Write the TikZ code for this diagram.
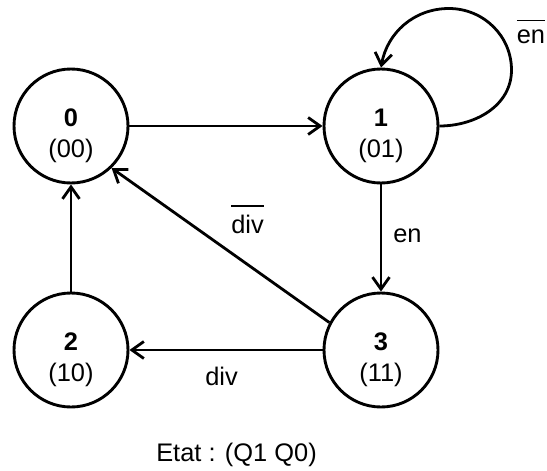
\documentclass[tikz,border=0pt]{standalone}
\usepackage{fontspec}
\setmainfont{Liberation Sans}
\usetikzlibrary{arrows.meta}
% overlined text: #1 = height of the bar above the baseline
\newcommand\ovl[2][12pt]{\setbox0\hbox{#2}\rlap{\rule[#1]{\wd0}{0.8pt}}\box0}
\begin{document}
\begin{tikzpicture}[x=0.5pt,y=-0.5pt,
  state/.style={circle,draw,line width=1.45pt,minimum size=57pt,inner sep=0pt},
  statetext/.style={align=center,inner sep=0pt,font=\fontsize{12.7}{15.5}\selectfont},
  edge/.style={draw,line width=1.4pt,-{Straight Barb[length=6pt,width=8.5pt]}},
  lbl/.style={anchor=base,inner sep=0pt,font=\fontsize{12.7}{14}\selectfont}]
\useasboundingbox (0,0) rectangle (547,471);

% states
\node[state] (s0) at (71,126) {};
\node[state] (s1) at (381,126) {};
\node[state] (s2) at (71,350) {};
\node[state] (s3) at (381,350) {};
\node[statetext] (t0) at ([yshift=-4.9pt]s0.center) {\textbf{0}\\(00)};
\node[statetext] (t1) at ([yshift=-4.9pt]s1.center) {\textbf{1}\\(01)};
\node[statetext] (t2) at ([yshift=-4.9pt]s2.center) {\textbf{2}\\(10)};
\node[statetext] (t3) at ([yshift=-4.9pt]s3.center) {\textbf{3}\\(11)};

% transitions
\draw[edge] (s0) -- (s1);
\draw[edge] (s1) -- (s3);
\draw[edge] (s2) -- (s0);
\draw[edge] (s3) -- (s2);
\draw[edge] (s3.152) -- (s0.-46);
\coordinate (lpE) at (511.5,70);
\coordinate (lpN) at (449,8.5);
\draw[edge] (s1.east) to[out=0,in=-90] (lpE) to[out=90,in=0] (lpN)
  to[out=180,in=80] (s1.north);

% transition labels
\node[lbl] (lenbar) at (531,43) {\ovl[10.8pt]{en}};
\node[lbl] (len) at (407.5,242) {en};
\node[lbl] (ldivbar) at (247.5,233) {\ovl[13pt]{div}};
\node[lbl] (ldiv) at (221.5,385) {div};
\node[lbl] (etat) at (236.5,461) {Etat : (Q1 Q0)};
\end{tikzpicture}
\end{document}
